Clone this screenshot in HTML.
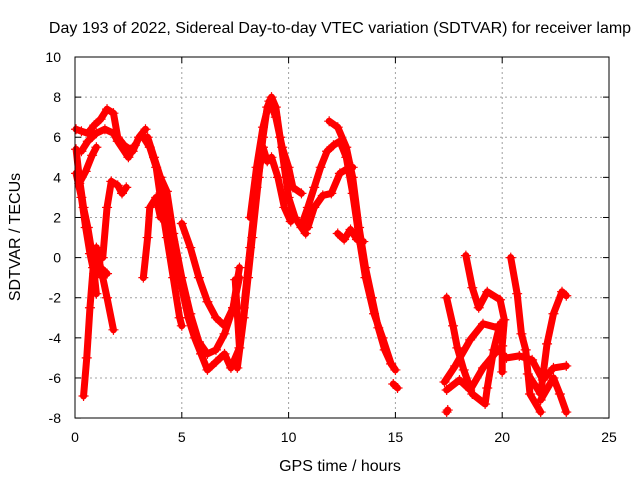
<!DOCTYPE html>
<html><head><meta charset="utf-8"><style>
body{margin:0;background:#fff}
svg{display:block;font-family:"Liberation Sans",sans-serif}
</style></head><body>
<svg id="chart" width="640" height="480">
<text x="340" y="33" text-anchor="middle" font-size="16">Day 193 of 2022, Sidereal Day-to-day VTEC variation (SDTVAR) for receiver lamp</text>
<text x="340" y="471" text-anchor="middle" font-size="16">GPS time / hours</text>
<text transform="translate(20,237) rotate(-90)" text-anchor="middle" font-size="16">SDTVAR / TECUs</text>
<g id="grid"></g><g id="ticks"></g><g id="marks"></g>
<rect x="75" y="57" width="534" height="361" fill="none" stroke="#000" stroke-width="1"/>
</svg>
<script>
const xTicks=[0,5,10,15,20,25];
const yTicks=[-8,-6,-4,-2,0,2,4,6,8,10];
const tracks=[
[[0.05,5.4],[0.2,4],[0.4,2.5],[0.6,1.5],[0.8,0.2],[1.0,-0.5],[1.3,-1],[1.5,-2],[1.8,-3.6]],
[[0.4,-6.9],[0.55,-5],[0.7,-2.5],[0.85,-0.5],[1.0,0.5],[1.2,-0.5],[1.5,-0.8]],
[[0.05,4.2],[0.3,3.0],[0.5,1.5],[0.7,0.2],[0.9,-0.8],[1.0,-1.8]],
[[0.05,6.4],[0.3,6.3],[0.6,6.2],[0.9,6.6],[1.2,6.9],[1.5,7.4],[1.8,7.2],[2.0,6.0],[2.3,5.6],[2.7,5.3],[3.0,6.0],[3.3,6.4]],
[[0.3,5.3],[0.6,5.8],[1.0,6.2],[1.4,6.4],[1.8,6.2],[2.0,5.8],[2.5,5.0],[2.8,5.6]],
[[0.2,3.7],[0.5,4.3],[0.8,5.1],[1.0,5.5]],
[[1.3,0],[1.5,2.5],[1.7,3.8],[2.0,3.6],[2.2,3.2],[2.4,3.5]],
[[3.2,-1],[3.4,1],[3.5,2.5],[3.8,3],[4.0,2]],
[[3.2,6.0],[3.5,5.5],[3.8,4.5],[4.0,3],[4.3,1],[4.6,-1],[4.9,-3],[5.0,-3.4]],
[[3.4,6.0],[3.7,5.0],[4.0,4.0],[4.3,2.5],[4.6,0.8],[5.0,-1.5],[5.3,-3.0],[5.6,-4.0],[5.9,-4.8],[6.2,-5.6],[6.6,-5.2],[7.0,-4.8],[7.3,-5.5],[7.7,-4.5],[7.5,-1.1]],
[[4.0,4.0],[4.3,3.3],[4.6,1.2],[5.0,-1.0],[5.4,-2.8],[5.8,-4.2],[6.2,-4.8],[6.6,-4.6],[7.0,-3.8],[7.4,-2.5],[7.7,-0.5]],
[[5.0,1.7],[5.4,0.5],[5.8,-1],[6.2,-2.2],[6.6,-3.0],[7.0,-3.4],[7.4,-2.5],[7.7,-1]],
[[7.6,-5.5],[7.9,-3],[8.1,-1],[8.3,1],[8.6,4],[8.8,6],[9.0,7.5],[9.2,8.0],[9.4,7.5],[9.6,6],[9.8,4.5],[10.0,3],[10.3,2],[10.6,1.5],[10.8,1.2]],
[[7.9,-2.5],[8.2,0.5],[8.5,3.5],[8.8,5.5],[9.0,4.8],[9.2,5.0],[9.5,4],[9.8,2.5],[10.1,1.8]],
[[8.2,2],[8.5,4.5],[8.8,6.5],[9.1,7.8],[9.4,7.0],[9.7,5.5],[10.0,4.5],[10.2,3.5],[10.6,3.2]],
[[11.9,6.8],[12.3,6.5],[12.7,5.5],[13.0,4],[13.3,1.5],[13.6,-0.5],[13.9,-2],[14.2,-3.5],[14.5,-4.6],[14.8,-5.3],[15.0,-5.6]],
[[10.6,1.6],[10.9,2.5],[11.2,3.5],[11.5,4.5],[11.8,5.3],[12.1,5.6],[12.4,5.8],[12.7,5.0],[13.0,3.2],[13.3,1],[13.6,-1],[14.0,-2.8],[14.4,-4],[14.8,-5.3]],
[[10.9,1.5],[11.2,2.5],[11.6,3.1],[12.0,3.2],[12.4,4.2],[12.7,4.4],[13.0,4.5]],
[[12.3,1.2],[12.6,0.9],[12.9,1.4],[13.2,0.9],[13.5,0.8]],
[[14.9,-6.3],[15.1,-6.5]],
[[18.3,0.1],[18.6,-1.5],[18.9,-2.5],[19.3,-1.7],[19.9,-2.1],[20.1,-3.1],[20.0,-4.4],[20.0,-5.7]],
[[20.4,0],[20.7,-1.8],[20.9,-3.8],[21.1,-4.6],[21.3,-6.8],[21.8,-7.7]],
[[17.4,-2],[17.7,-3.4],[17.9,-4.5],[18.2,-5.6],[18.6,-6.8],[19.2,-7.3],[19.3,-6.5],[19.6,-4.6],[19.9,-3.3]],
[[17.3,-6.2],[17.8,-5.4],[18.5,-4.1],[19.1,-3.3],[19.8,-3.5],[20.0,-3.4]],
[[17.4,-6.6],[18.0,-6.1],[18.5,-6.6],[19.1,-5.5],[19.8,-4.6],[20.2,-5.0],[20.8,-4.9],[21.4,-5.1],[21.9,-6.1],[22.4,-5.5],[23.0,-5.4]],
[[21.2,-5.8],[21.8,-6.8],[22.1,-4.3],[22.4,-2.8],[22.8,-1.7],[23.0,-1.9]],
[[21.8,-7.1],[22.4,-6.0],[22.7,-6.8],[23.0,-7.7]],
[[17.4,-7.7],[17.45,-7.6]]
];
const X=t=>75+t*21.36;
const Y=v=>57+(10-v)*20.06;
const NS="http://www.w3.org/2000/svg";
const mk=(tag,attrs,parent)=>{const e=document.createElementNS(NS,tag);for(const k in attrs)e.setAttribute(k,attrs[k]);parent.appendChild(e);return e;};
const grid=document.getElementById('grid'),ticks=document.getElementById('ticks'),marks=document.getElementById('marks');
xTicks.forEach(t=>{
 if(t>0&&t<25){const g=mk('line',{x1:X(t),x2:X(t),y1:57,y2:418,stroke:'#a0a0a0','stroke-dasharray':'2,3'},grid);
 
 }
 mk('line',{x1:X(t),x2:X(t),y1:418,y2:412,stroke:'#000'},ticks);
 mk('line',{x1:X(t),x2:X(t),y1:57,y2:63,stroke:'#000'},ticks);
 const l=mk('text',{x:X(t),y:442,'text-anchor':'middle','font-size':14},ticks);l.textContent=t;
 
 
});
yTicks.forEach(v=>{
 if(v>-8&&v<10){const g=mk('line',{x1:75,x2:609,y1:Y(v),y2:Y(v),stroke:'#a0a0a0','stroke-dasharray':'2,3'},grid);
 
 }
 mk('line',{x1:75,x2:81,y1:Y(v),y2:Y(v),stroke:'#000'},ticks);
 mk('line',{x1:603,x2:609,y1:Y(v),y2:Y(v),stroke:'#000'},ticks);
 const l=mk('text',{x:61,y:Y(v)+5,'text-anchor':'end','font-size':14},ticks);l.textContent=v;
 
 
});
tracks.forEach((tr,i)=>{
 const p=mk('polyline',{points:tr.map(d=>X(d[0])+','+Y(d[1])).join(' '),fill:'none',stroke:'#ff0000','stroke-width':7,'stroke-linejoin':'round','stroke-linecap':'round'},marks);
 
 
 tr.forEach(d=>{
  const m=mk('path',{d:`M${X(d[0])-5},${Y(d[1])}h10M${X(d[0])},${Y(d[1])-5}v10`,stroke:'#ff0000','stroke-width':1.2},marks);
  
  
 });
});
</script>
</body></html>
